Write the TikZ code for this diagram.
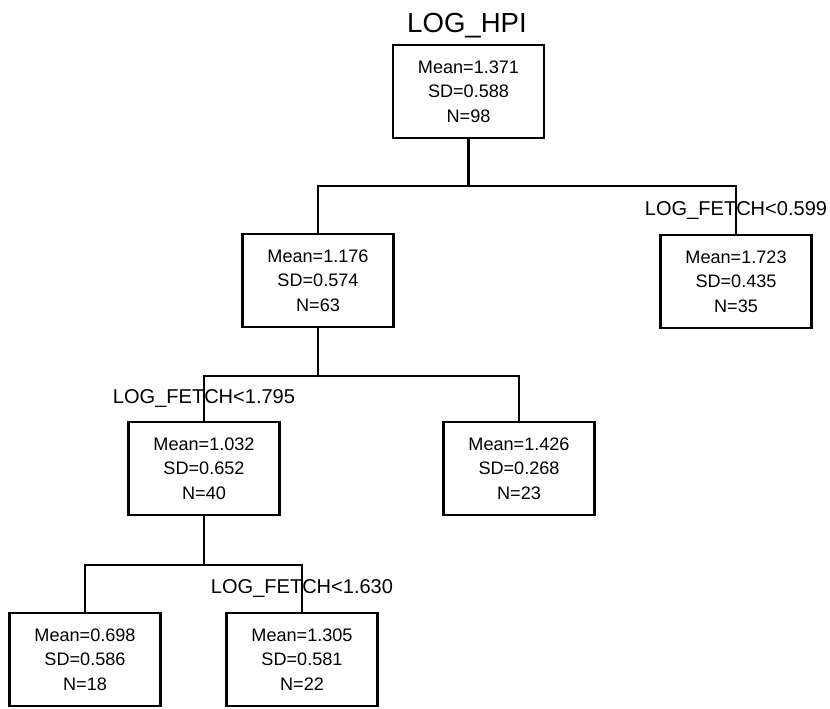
\documentclass[tikz,border=0pt]{standalone}
\usepackage{fontspec}
\setmainfont{Liberation Sans}
\usetikzlibrary{positioning,calc}
\tikzset{
  stat/.style={draw,line width=1.2pt,minimum width=30.2mm,minimum height=18.6mm,
    inner sep=0pt,align=center,font=\fontsize{10.3}{13.9}\selectfont},
  cond/.style={font=\fontsize{11.4}{13}\selectfont,inner sep=1pt},
  link/.style={line width=1.2pt},
}
\begin{document}
\begin{tikzpicture}
  \useasboundingbox (0,0) rectangle (16.6,14.16);
  \node[font=\fontsize{15.7}{18}\selectfont,anchor=base] (title) at (9.34,13.5) {LOG\_HPI};
  % tree nodes
  \node[stat] (root) at (9.37,12.33) {Mean=1.371\\SD=0.588\\N=98};
  \node[stat] (a) at (6.36,8.55) {Mean=1.176\\SD=0.574\\N=63};
  \node[stat] (b) at (14.72,8.53) {Mean=1.723\\SD=0.435\\N=35};
  \node[stat] (aa) at (4.08,4.79) {Mean=1.032\\SD=0.652\\N=40};
  \node[stat] (ab) at (10.38,4.79) {Mean=1.426\\SD=0.268\\N=23};
  \node[stat] (aaa) at (1.70,0.97) {Mean=0.698\\SD=0.586\\N=18};
  \node[stat] (aab) at (6.04,0.97) {Mean=1.305\\SD=0.581\\N=22};
  % splits
  \coordinate[below=9.4mm of root.south] (s0);
  \coordinate[below=9.6mm of a.south] (s1);
  \coordinate[below=9.8mm of aa.south] (s2);
  \draw[link] (root.south) -- (s0) -| (a.north);
  \draw[link] (s0) -| node[cond,pos=0.75]{LOG\_FETCH<0.599} (b.north);
  \draw[link] (a.south) -- (s1) -| node[cond,pos=0.75]{LOG\_FETCH<1.795} (aa.north);
  \draw[link] (s1) -| (ab.north);
  \draw[link] (aa.south) -- (s2) -| (aaa.north);
  \draw[link] (s2) -| node[cond,pos=0.75]{LOG\_FETCH<1.630} (aab.north);
\end{tikzpicture}
\end{document}
